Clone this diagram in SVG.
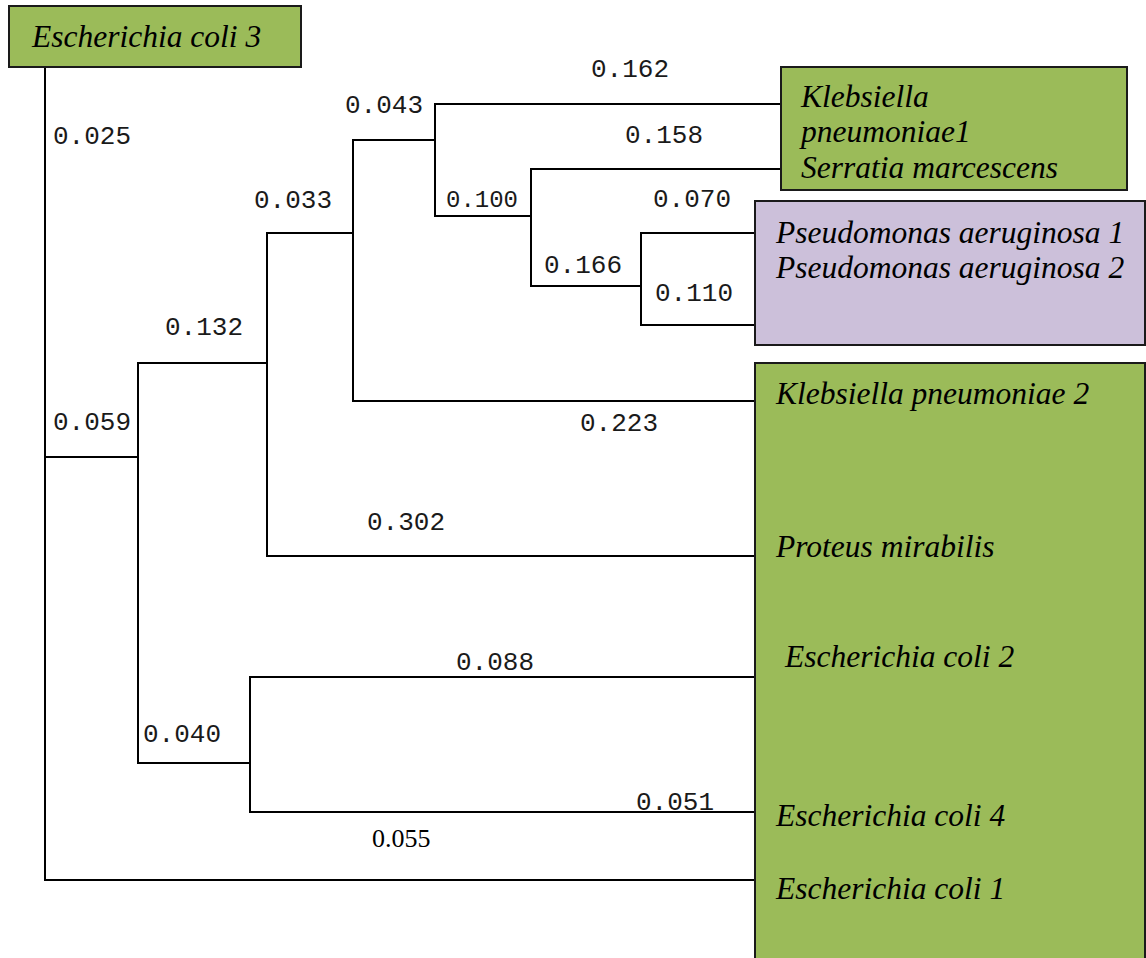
<svg xmlns="http://www.w3.org/2000/svg" width="1146" height="958" viewBox="0 0 1146 958">
<style>
.box{stroke:#1a1a1a;stroke-width:2}
.green{fill:#9BBB59}
.purple{fill:#CCC0DA}
.sp{font-family:"Liberation Serif","Times New Roman",serif;font-style:italic;font-size:31.5px;fill:#000}
.num{font-family:"Liberation Mono","Courier New",monospace;font-size:26px;fill:#1a1a1a}
.numS{font-family:"Liberation Serif","Times New Roman",serif;font-size:26px;fill:#000}
.ln{fill:none;stroke:#000;stroke-width:2;stroke-linecap:square}
</style>
<rect width="1146" height="958" fill="#fff"/>
<g id="connectors">
<path class="ln" d="M45,67 V880 H755"/>
<path class="ln" d="M45,457 H138"/>
<path class="ln" d="M138,363 V763"/>
<path class="ln" d="M138,363 H267"/>
<path class="ln" d="M138,763 H250"/>
<path class="ln" d="M267,233 V556 H755"/>
<path class="ln" d="M267,233 H353"/>
<path class="ln" d="M353,140 V401 H755"/>
<path class="ln" d="M353,140 H435"/>
<path class="ln" d="M435,104 V216 H531"/>
<path class="ln" d="M435,104 H781"/>
<path class="ln" d="M531,169 V286 H641"/>
<path class="ln" d="M531,169 H781"/>
<path class="ln" d="M641,233 V325 H755"/>
<path class="ln" d="M641,233 H755"/>
<path class="ln" d="M250,677 V812 H755"/>
<path class="ln" d="M250,677 H755"/>
</g>
<g id="branch-labels">
<text class="num" x="53" y="144">0.025</text>
<text class="num" x="345" y="113">0.043</text>
<text class="num" x="591" y="77">0.162</text>
<text class="num" x="625" y="143">0.158</text>
<text class="num" x="446" y="207" style="font-size:24px">0.100</text>
<text class="num" x="653" y="207">0.070</text>
<text class="num" x="254" y="208">0.033</text>
<text class="num" x="544" y="273">0.166</text>
<text class="num" x="655" y="301">0.110</text>
<text class="num" x="165" y="335">0.132</text>
<text class="num" x="53" y="430">0.059</text>
<text class="num" x="580" y="431">0.223</text>
<text class="num" x="367" y="530">0.302</text>
<text class="num" x="456" y="670">0.088</text>
<text class="num" x="143" y="742">0.040</text>
<text class="num" x="636" y="810">0.051</text>
<text class="numS" x="372" y="847">0.055</text>
</g>
<g id="node-ecoli3">
<rect class="box green" x="9" y="6" width="292" height="61"/>
<text class="sp" x="32" y="47">Escherichia coli 3</text>
</g>
<g id="node-klebsiella1-serratia">
<rect class="box green" x="781" y="67" width="346" height="123"/>
<text class="sp" x="801" y="107">Klebsiella</text>
<text class="sp" x="801" y="142">pneumoniae1</text>
<text class="sp" x="801" y="178">Serratia marcescens</text>
</g>
<g id="node-pseudomonas">
<rect class="box purple" x="755" y="201" width="390" height="144"/>
<text class="sp" x="776" y="243">Pseudomonas aeruginosa 1</text>
<text class="sp" x="776" y="278">Pseudomonas aeruginosa 2</text>
</g>
<g id="node-main-group">
<rect class="box green" x="755" y="363" width="390" height="600"/>
<text class="sp" x="776" y="404">Klebsiella pneumoniae 2</text>
<text class="sp" x="776" y="557">Proteus mirabilis</text>
<text class="sp" x="785" y="667">Escherichia coli 2</text>
<text class="sp" x="776" y="826">Escherichia coli 4</text>
<text class="sp" x="776" y="899">Escherichia coli 1</text>
</g>
</svg>
